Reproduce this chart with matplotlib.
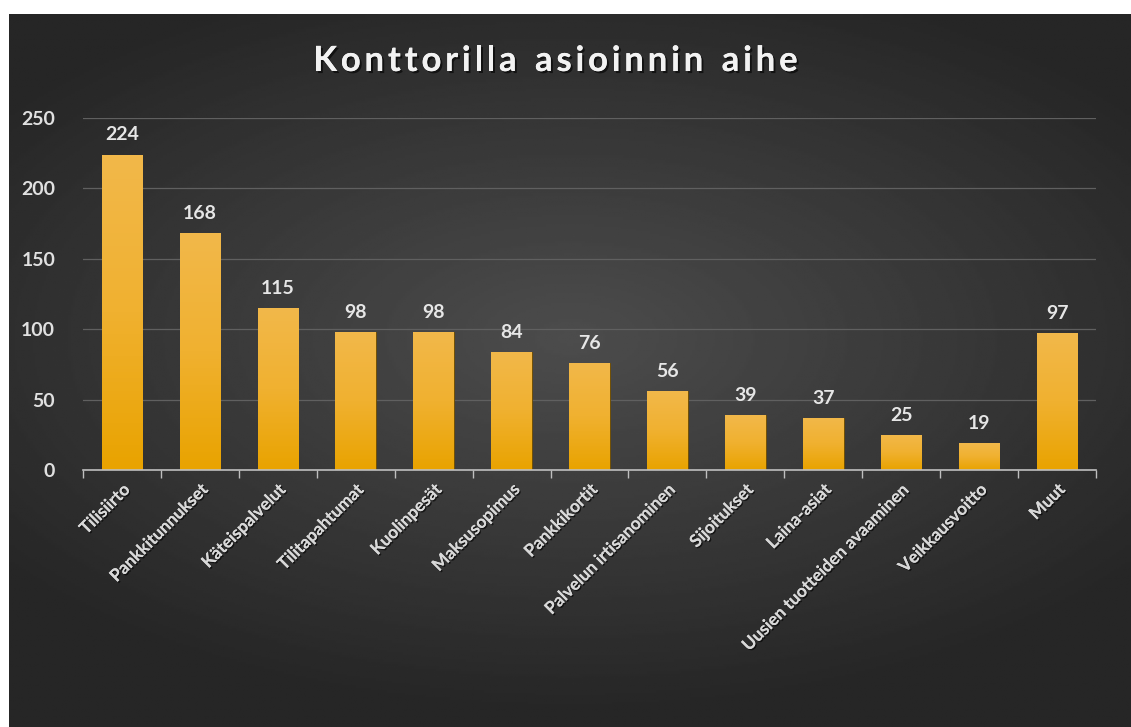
import numpy as np
import matplotlib.pyplot as plt
from matplotlib.colors import LinearSegmentedColormap
import matplotlib.patheffects as pe

categories = ["Tilisiirto", "Pankkitunnukset", "Käteispalvelut", "Tilitapahtumat",
              "Kuolinpesät", "Maksusopimus", "Pankkikortit", "Palvelun irtisanominen",
              "Sijoitukset", "Laina-asiat", "Uusien tuotteiden avaaminen",
              "Veikkausvoitto", "Muut"]
values = [224, 168, 115, 98, 98, 84, 76, 56, 39, 37, 25, 19, 97]
yticks = [0, 50, 100, 150, 200, 250]
title = "Konttorilla asioinnin aihe"

W, H = 1131, 727
fig = plt.figure(figsize=(W / 100, H / 100), dpi=100, facecolor="white")

# dark radial background panel
bg = fig.add_axes([9 / W, 0, 1 - 9 / W, 1 - 14 / H])
bg.set_axis_off()
yy, xx = np.mgrid[-1:1:300j, -1:1:500j]
r = np.sqrt((xx * 0.9) ** 2 + (yy * 1.1 + 0.1) ** 2)
shade = np.clip(0.30 - 0.13 * r, 0.15, 0.30)
bg.imshow(shade, cmap="gray", vmin=0, vmax=1, aspect="auto", extent=[0, 1, 0, 1])
bg.set_xlim(0, 1)
bg.set_ylim(0, 1)

ax = fig.add_axes([83 / W, 1 - 470 / H, (1096 - 83) / W, (470 - 118) / H])
ax.patch.set_alpha(0)
x = np.arange(len(categories))
bars = ax.bar(x, values, width=0.52, color="#efac10", zorder=3,
              edgecolor="#6b4a00", linewidth=0.6)

# vertical gold gradient inside each bar
gold = LinearSegmentedColormap.from_list("gold", ["#e9a300", "#f0b130", "#f2b84a"])
grad = np.linspace(0, 1, 100).reshape(-1, 1)
for b in bars:
    bx, by, bw, bh = b.get_x(), b.get_y(), b.get_width(), b.get_height()
    im = ax.imshow(grad, cmap=gold, aspect="auto", origin="lower",
                   extent=[bx, bx + bw, by, by + bh], zorder=3.5)
    im.set_clip_path(b)

for xi, v in zip(x, values):
    ax.annotate(str(v), (xi, v), xytext=(0, 8), textcoords="offset points",
                ha="center", va="bottom", color="#e6e6e6", fontsize=14,
                fontweight="bold", family="Lato", zorder=5)

ax.set_xlim(-0.5, len(categories) - 0.5)
ax.set_ylim(0, 250)
ax.set_yticks(yticks)
ax.set_yticklabels([str(t) for t in yticks], color="#e0e0e0", fontsize=14,
                   fontweight="bold", family="Lato")
ax.tick_params(axis="y", length=0, pad=20)
ax.grid(axis="y", color="#606060", linewidth=0.9, zorder=1)

ax.set_xticks(x)
ax.set_xticklabels(categories, rotation=45, ha="right", rotation_mode="anchor",
                   color="#d8d8d8", fontsize=12.5, fontweight="bold", family="Lato")
for lbl in ax.get_xticklabels():
    lbl.set_path_effects([pe.withSimplePatchShadow(offset=(1, -1), alpha=0.6,
                                                   shadow_rgbFace="black"),
                          pe.Normal()])
ax.tick_params(axis="x", length=0, pad=8)
ax.set_xticks(np.arange(-0.5, len(categories)), minor=True)
ax.tick_params(axis="x", which="minor", length=6, color="#bfbfbf", width=1)

for s in ["top", "right", "left"]:
    ax.spines[s].set_visible(False)
ax.spines["bottom"].set_color("#bfbfbf")
ax.spines["bottom"].set_linewidth(1.2)
ax.spines["bottom"].set_zorder(4)

# title with extra letter spacing, laid out one character at a time
renderer = fig.canvas.get_renderer()
tstyle = dict(color="#f2f2f2", fontsize=25, fontweight="bold", family="Lato",
              va="center", ha="left",
              path_effects=[pe.withSimplePatchShadow(offset=(1.5, -1.5), alpha=0.6,
                                                     shadow_rgbFace="black"),
                            pe.Normal()])
spacing = 3.8
widths = []
for ch in title:
    t = fig.text(0, 0, ch if ch != " " else "n", **tstyle)
    w = t.get_window_extent(renderer).width
    widths.append(w * (0.55 if ch == " " else 1.0))
    t.remove()
total = sum(widths) + spacing * (len(title) - 1)
xpos = (318 + 793) / 2 - total / 2
for ch, w in zip(title, widths):
    if ch != " ":
        fig.text(xpos / W, 1 - 61 / H, ch, **tstyle)
    xpos += w + spacing

fig.savefig("out.png", dpi=100, facecolor="white")
